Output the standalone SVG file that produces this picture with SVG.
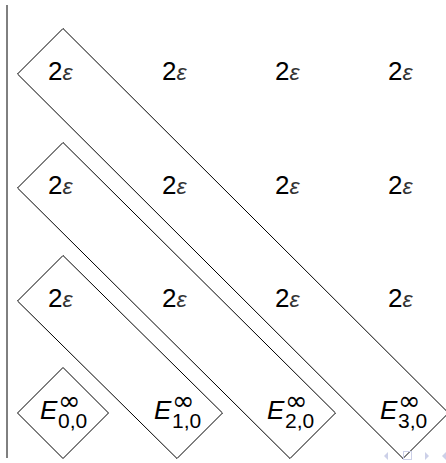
<svg xmlns="http://www.w3.org/2000/svg" width="446" height="463" viewBox="0 0 446 463">
<style>
.b{fill:none;stroke:#000;stroke-width:1}
.t{font-family:"Liberation Sans",Arial,sans-serif;font-size:26px;fill:#000}
.e{font-family:"Liberation Sans",Arial,sans-serif;font-style:italic;font-size:23px;fill:#333}
.E{font-family:"Liberation Sans",Arial,sans-serif;font-style:italic;font-size:26px;fill:#000}
.s{font-family:"Liberation Sans",Arial,sans-serif;font-size:21px;fill:#000}
.i{font-family:"DejaVu Sans",sans-serif;font-size:27px;fill:#000}
.nav{fill:#ccd0e8}
</style>
<rect width="446" height="463" fill="#fff"/>
<line x1="7" y1="5" x2="7" y2="458" stroke="#000" stroke-width="1"/>
<g id="connectors">
<polygon class="b" points="63,28.5 448.5,413 403,458.5 17.5,74"/>
<polygon class="b" points="63,142.5 335.5,413 290,458.5 17.5,188"/>
<polygon class="b" points="63,255.5 222.5,413 177,458.5 17.5,301"/>
<polygon class="b" points="63,367.5 108.5,413 63,458.5 17.5,413"/>
</g>
<g id="row0">
<text class="t" x="48" y="80">2<tspan class="e">ε</tspan></text>
<text class="t" x="162" y="80">2<tspan class="e">ε</tspan></text>
<text class="t" x="275" y="80">2<tspan class="e">ε</tspan></text>
<text class="t" x="388" y="80">2<tspan class="e">ε</tspan></text>
</g>
<g id="row1">
<text class="t" x="48" y="194">2<tspan class="e">ε</tspan></text>
<text class="t" x="162" y="194">2<tspan class="e">ε</tspan></text>
<text class="t" x="275" y="194">2<tspan class="e">ε</tspan></text>
<text class="t" x="388" y="194">2<tspan class="e">ε</tspan></text>
</g>
<g id="row2">
<text class="t" x="48" y="307">2<tspan class="e">ε</tspan></text>
<text class="t" x="162" y="307">2<tspan class="e">ε</tspan></text>
<text class="t" x="275" y="307">2<tspan class="e">ε</tspan></text>
<text class="t" x="388" y="307">2<tspan class="e">ε</tspan></text>
</g>
<g id="E00"><text class="E" x="40" y="419">E</text><text class="i" x="58" y="410">∞</text><text class="s" x="58" y="428">0,0</text></g>
<g id="E10"><text class="E" x="154" y="419">E</text><text class="i" x="172" y="410">∞</text><text class="s" x="172" y="428">1,0</text></g>
<g id="E20"><text class="E" x="267" y="419">E</text><text class="i" x="285" y="410">∞</text><text class="s" x="285" y="428">2,0</text></g>
<g id="E30"><text class="E" x="380" y="419">E</text><text class="i" x="398" y="410">∞</text><text class="s" x="398" y="428">3,0</text></g>
<g id="nav">
<polygon class="nav" points="388,452 388,460 384,456"/>
<rect x="403.5" y="451.5" width="8" height="8" fill="none" stroke="#ccd0e8"/>
<polygon class="nav" points="425,452 425,460 429,456"/>
<polygon class="nav" points="446,452 446,460 442,456"/>
</g>
</svg>
